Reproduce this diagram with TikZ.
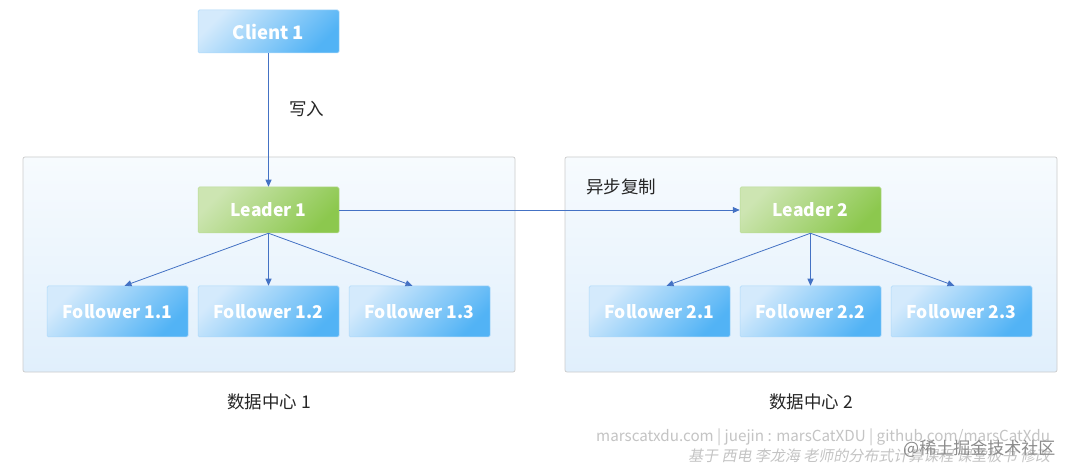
\documentclass[tikz,border=0pt]{standalone}
\usepackage{fontspec}
\setmainfont{Noto Sans CJK SC}
\newfontfamily\cjkslant[FakeSlant=0.2]{Noto Sans CJK SC}
\usetikzlibrary{arrows.meta}
\definecolor{arr}{HTML}{4472C4}
\definecolor{bluelt}{HTML}{D4EAFC}
\definecolor{bluedk}{HTML}{52B3F5}
\definecolor{greenlt}{HTML}{CDE5B2}
\definecolor{greendk}{HTML}{8CC84E}
\definecolor{contlt}{HTML}{F7FBFE}
\definecolor{contdk}{HTML}{E0EFFC}
\definecolor{contbd}{HTML}{CCCCCC}
\definecolor{wm}{HTML}{C4C4C4}
\tikzset{
  box/.style={minimum width=141pt, minimum height=46pt, rounded corners=1.5pt, inner sep=0pt,
     text=white, font=\fontsize{17.5}{20}\selectfont\bfseries},
  bluebox/.style={box, top color=bluelt, bottom color=bluedk, shading angle=45, draw=bluelt!70!bluedk, line width=0.5pt},
  greenbox/.style={box, top color=greenlt, bottom color=greendk, shading angle=45, draw=greenlt!70!greendk, line width=0.5pt},
  follower/.style={bluebox, minimum height=51pt},
  container/.style={draw=contbd, line width=0.7pt, rounded corners=2pt, top color=contlt, bottom color=contdk, minimum width=492pt, minimum height=215pt, inner sep=0pt},
  conn/.style={draw=arr, line width=0.8pt, -{Triangle[length=7pt,width=6pt]}},
  lbl/.style={font=\fontsize{17.5}{20}\selectfont, text=black!85},
}
\begin{document}
\begin{tikzpicture}[x=1pt,y=-1pt]
\useasboundingbox[fill=white] (0,0) rectangle (1080,473);
% containers
\node[container] (dc1) at (269,264.5) {};
\node[container] (dc2) at (811,264.5) {};
% nodes
\node[bluebox, minimum height=43pt, font=\fontsize{18.5}{21}\selectfont\bfseries] (client) at (268.5,31.5) {Client 1};
\node[greenbox] (l1) at (268.5,210) {Leader 1};
\node[greenbox] (l2) at (810.5,210) {Leader 2};
\node[follower] (f11) at (117.5,311.5) {Follower 1.1};
\node[follower] (f12) at (268.5,311.5) {Follower 1.2};
\node[follower] (f13) at (419.5,311.5) {Follower 1.3};
\node[follower] (f21) at (659.5,311.5) {Follower 2.1};
\node[follower] (f22) at (810.5,311.5) {Follower 2.2};
\node[follower] (f23) at (961.5,311.5) {Follower 2.3};
% labels
\node[lbl] (w) at (306.5,109) {写入};
\node[lbl] (async) at (621,187) {异步复制};
\node[lbl] (n1) at (269,402) {数据中心 1};
\node[lbl] (n2) at (811,402) {数据中心 2};
% connectors
\draw[conn] (client.south) -- (l1.north);
\draw[conn] (l1.east) -- (l2.west);
\draw[conn] (l1.south) -- ([xshift=7pt]f11.north);
\draw[conn] (l1.south) -- (f12.north);
\draw[conn] (l1.south) -- ([xshift=-7pt]f13.north);
\draw[conn] (l2.south) -- ([xshift=7pt]f21.north);
\draw[conn] (l2.south) -- (f22.north);
\draw[conn] (l2.south) -- ([xshift=-7pt]f23.north);
% watermark
\node[text=wm, font=\fontsize{15.2}{17}\selectfont, anchor=west, inner sep=0pt] (wm1) at (596,437) {marscatxdu.com | juejin : marsCatXDU | github.com/marsCatXdu};
\node[text=wm, font=\fontsize{15}{17}\cjkslant, anchor=west, inner sep=0pt] (wm2) at (688,456) {基于 西电 李龙海 老师的分布式计算课程 课堂板书 修改};
\node[text=black!45, font=\fontsize{17}{19}\selectfont, anchor=west, inner sep=0pt] (wm3) at (903,449) {@稀土掘金技术社区};
\end{tikzpicture}
\end{document}
